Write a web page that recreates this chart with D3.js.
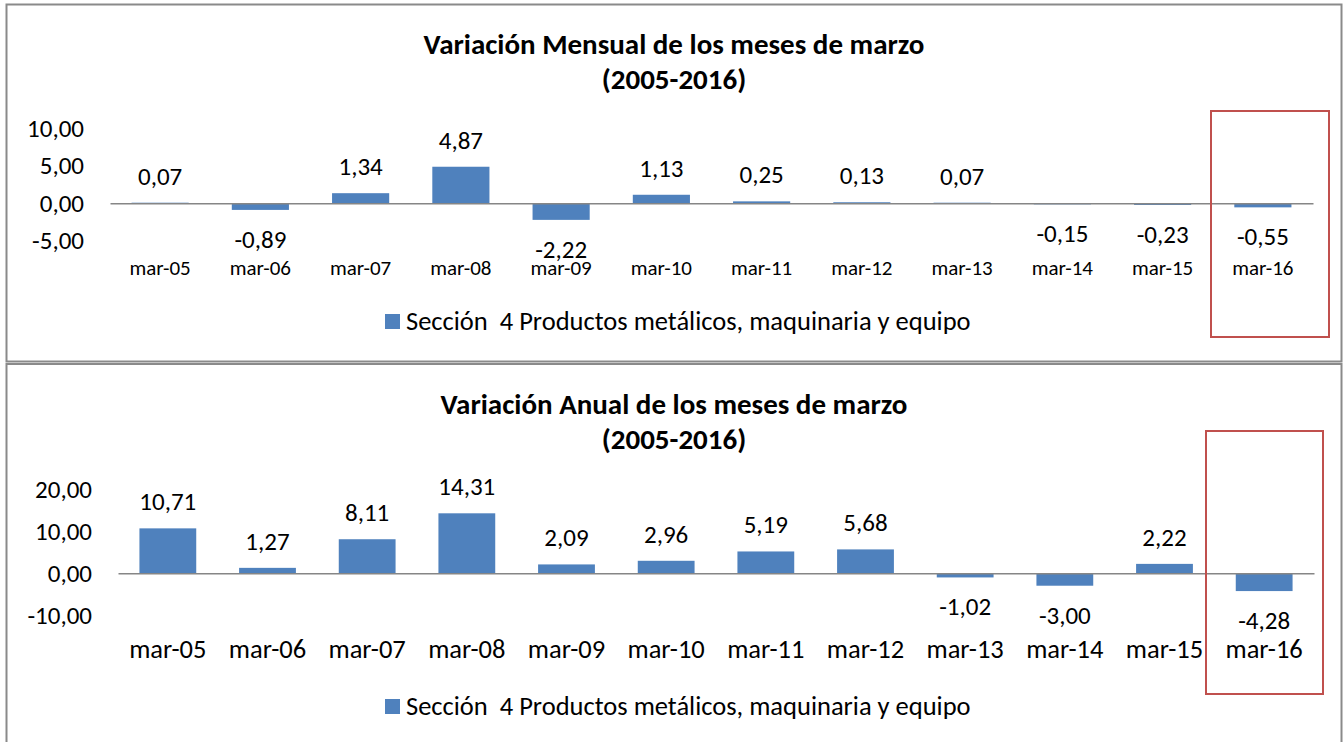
<!DOCTYPE html>
<html>
<head>
<meta charset="utf-8">
<script src="https://cdn.jsdelivr.net/npm/d3@7"></script>
<style>
  html, body { margin: 0; padding: 0; background: #fff; }
  svg { display: block; }
  text { font-family: Carlito, Calibri, Lato, sans-serif; fill: #000; }
</style>
</head>
<body>
<svg id="chart" width="1343" height="742"></svg>
<script>
// ---- data ----
const categories = ["mar-05","mar-06","mar-07","mar-08","mar-09","mar-10","mar-11","mar-12","mar-13","mar-14","mar-15","mar-16"];
const mensualValues = [0.07, -0.89, 1.34, 4.87, -2.22, 1.13, 0.25, 0.13, 0.07, -0.15, -0.23, -0.55];
const anualValues = [10.71, 1.27, 8.11, 14.31, 2.09, 2.96, 5.19, 5.68, -1.02, -3.00, 2.22, -4.28];
const mensualTicks = [-5, 0, 5, 10];
const anualTicks = [-10, 0, 10, 20];
const mensualTitle = ["Variación Mensual de los meses de marzo", "(2005-2016)"];
const anualTitle = ["Variación Anual de los meses de marzo", "(2005-2016)"];
const seriesName = "Sección  4 Productos metálicos, maquinaria y equipo";

const fmt = v => d3.format(".2f")(v).replace("\u2212", "-").replace(".", ",");

const svg = d3.select("#chart");

function panel(cfg) {
  const g = svg.append("g");
  // frame
  g.append("rect")
    .attr("x", cfg.frame[0]).attr("y", cfg.frame[1])
    .attr("width", cfg.frame[2]).attr("height", cfg.frame[3])
    .attr("fill", "#fff").attr("stroke", "#8a8a8a").attr("stroke-width", 2);

  // title
  cfg.title.forEach((t, i) => {
    g.append("text").attr("x", 674).attr("y", cfg.titleY[i])
      .attr("text-anchor", "middle").attr("font-weight", "bold")
      .attr("font-size", cfg.titleSize).text(t);
  });

  const x = d3.scaleBand().domain(categories).range(cfg.xRange)
    .paddingInner(0.43).paddingOuter(0.215);
  const y = d3.scaleLinear().domain(cfg.yDomain).range(cfg.yRange);

  // y tick labels
  const yAxis = d3.axisLeft(y).tickValues(cfg.ticks).tickFormat(fmt).tickSize(0).tickPadding(0);
  const ya = g.append("g").attr("transform", `translate(${cfg.tickX},0)`).call(yAxis);
  ya.select(".domain").remove();
  ya.selectAll("text").attr("font-size", cfg.tickSize).attr("font-family", null).attr("fill", "#000");

  // bars
  g.selectAll("rect.bar").data(cfg.values).join("rect").attr("class", "bar")
    .attr("x", (d, i) => x(categories[i]))
    .attr("width", x.bandwidth())
    .attr("y", d => y(Math.max(0, d)))
    .attr("height", d => Math.abs(y(d) - y(0)))
    .attr("fill", "#4f81bd");

  // zero axis line
  const xa = d3.axisBottom(x).tickSize(0).tickFormat("");
  g.append("g").attr("transform", `translate(0,${y(0)})`).call(xa)
    .select(".domain").attr("stroke", "#868686").attr("stroke-width", 1.5);

  // category labels
  g.selectAll("text.cat").data(categories).join("text").attr("class", "cat")
    .attr("x", d => x(d) + x.bandwidth() / 2)
    .attr("y", cfg.catY)
    .attr("text-anchor", "middle")
    .attr("font-size", cfg.catSize)
    .text(d => d);

  // data labels
  g.selectAll("text.val").data(cfg.values).join("text").attr("class", "val")
    .attr("x", (d, i) => x(categories[i]) + x.bandwidth() / 2)
    .attr("y", d => d >= 0 ? y(d) - 18 : y(d) + 38)
    .attr("text-anchor", "middle")
    .attr("font-size", cfg.valSize)
    .text(d => fmt(d));

  // legend
  g.append("rect").attr("x", 385).attr("y", cfg.legendY - 15).attr("width", 15).attr("height", 15)
    .attr("fill", "#4f81bd");
  g.append("text").attr("x", 406).attr("y", cfg.legendY + 1)
    .attr("font-size", cfg.legendSize).style("white-space", "pre").text(seriesName);

  // highlight box
  g.append("rect")
    .attr("x", cfg.box[0]).attr("y", cfg.box[1])
    .attr("width", cfg.box[2]).attr("height", cfg.box[3])
    .attr("fill", "none").attr("stroke", "#c0504d").attr("stroke-width", 2);
}

panel({
  frame: [6.5, 4.5, 1335, 357],
  title: mensualTitle, titleY: [54, 89], titleSize: 29,
  xRange: [110, 1313], yDomain: [-5, 10], yRange: [240.7, 128.3],
  ticks: mensualTicks, tickX: 84, tickSize: 25,
  values: mensualValues, valSize: 25,
  catY: 275, catSize: 21,
  legendY: 329, legendSize: 26.5,
  box: [1211, 111, 118, 226]
});

panel({
  frame: [6.5, 364, 1335, 400],
  title: anualTitle, titleY: [414, 449], titleSize: 29,
  xRange: [118, 1314], yDomain: [-10, 20], yRange: [615, 489.5],
  ticks: anualTicks, tickX: 92, tickSize: 25,
  values: anualValues, valSize: 25,
  catY: 658, catSize: 26.5,
  legendY: 714, legendSize: 26.5,
  box: [1206, 431, 117, 263]
});
</script>
</body>
</html>
